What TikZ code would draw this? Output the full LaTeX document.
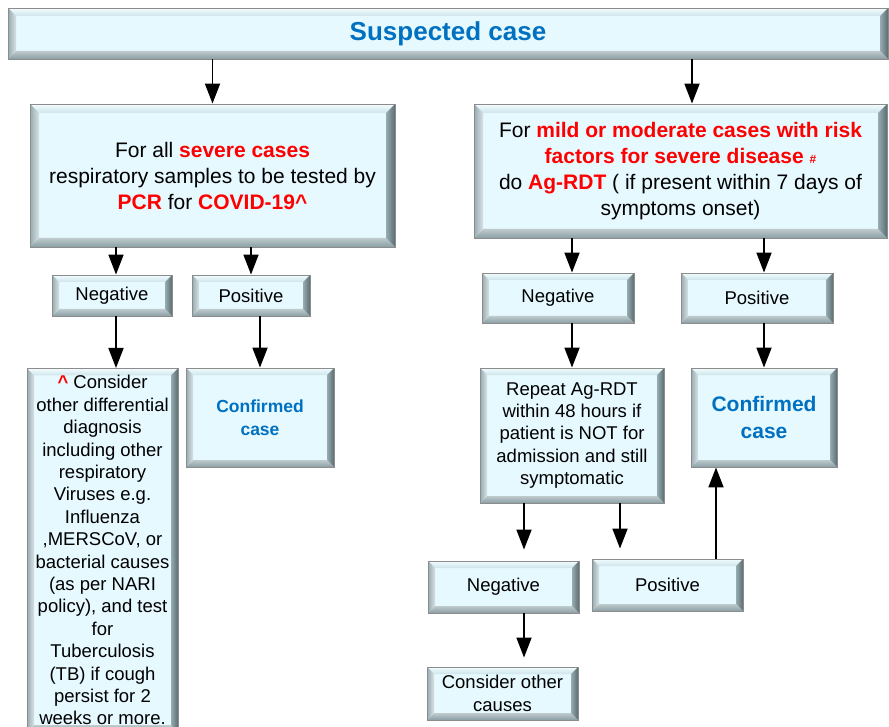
\documentclass[tikz,border=0pt]{standalone}
\usepackage{fontspec}
\setmainfont{Liberation Sans}
\usetikzlibrary{arrows.meta}

\definecolor{boxfill}{HTML}{E6F9FF}
\definecolor{bevlight}{HTML}{F4FDFF}
\definecolor{bevtopdark}{HTML}{CDE4EA}
\definecolor{bevside}{HTML}{95ACB1}
\definecolor{bevdark}{HTML}{5C6D71}
\definecolor{bevbottom}{HTML}{8A9FA4}
\definecolor{rimgray}{HTML}{8C8C8C}
\definecolor{alertred}{HTML}{FF0000}
\definecolor{caseblue}{HTML}{0070C0}

\newcommand{\hl}[1]{\textbf{\color{alertred}#1}}
\newcommand{\hb}[1]{\textbf{\color{caseblue}#1}}

\newcommand{\bevelfaces}[1]{%
  \coordinate (bnw) at (path picture bounding box.north west);
  \coordinate (bne) at (path picture bounding box.north east);
  \coordinate (bsw) at (path picture bounding box.south west);
  \coordinate (bse) at (path picture bounding box.south east);
  \shade[top color=bevlight, bottom color=bevtopdark]
    (bnw) -- (bne) -- ([shift={(-#1,-#1)}]bne) -- ([shift={(#1,-#1)}]bnw) -- cycle;
  \shade[top color=bevbottom!55, bottom color=bevbottom]
    (bsw) -- (bse) -- ([shift={(-#1,#1)}]bse) -- ([shift={(#1,#1)}]bsw) -- cycle;
  \shade[left color=bevside, right color=bevside!35]
    (bnw) -- (bsw) -- ([shift={(#1,#1)}]bsw) -- ([shift={(#1,-#1)}]bnw) -- cycle;
  \shade[left color=bevside, right color=bevdark]
    (bne) -- (bse) -- ([shift={(-#1,#1)}]bse) -- ([shift={(-#1,-#1)}]bne) -- cycle;
}

\tikzset{
  bevelbox/.style={draw=rimgray, line width=0.9pt, fill=boxfill, inner sep=0pt,
    align=center, path picture={\bevelfaces{#1}}},
  bevelbox/.default=7pt,
  arr/.style={-{Triangle[width=15pt,length=20pt]}, line width=1.8pt},
  bigtext/.style={font=\fontsize{21}{26}\selectfont},
  smalltext/.style={font=\fontsize{18.5}{22.4}\selectfont},
}

\begin{document}
\begin{tikzpicture}[x=1pt,y=-1pt]
\useasboundingbox (0,0) rectangle (889,727);
\clip (0,0) rectangle (889,727);

\node[bevelbox=8pt, minimum width=880pt, minimum height=51pt,
  font=\fontsize{26}{30}\selectfont] (suspect) at (448,33.5) {\hb{Suspected case}};

\node[bevelbox=9pt, minimum width=365pt, minimum height=143pt, bigtext] (severe) at (212.5,175.5)
  {For all \hl{severe cases}\\respiratory samples to be tested by\\\hl{PCR} for \hl{COVID-19\textasciicircum}};
\node[bevelbox=9pt, minimum width=413pt, minimum height=134pt, bigtext] (mild) at (680.5,171)
  {For \hl{mild or moderate cases with risk}\\\hl{factors for severe disease} {\fontsize{12}{12}\selectfont\hl{\#}}\\do \hl{Ag-RDT} ( if present within 7 days of\\symptoms onset)};

\node[bevelbox, minimum width=120pt, minimum height=41pt, smalltext] (negL) at (112,295.5) {Negative};
\node[bevelbox, minimum width=118pt, minimum height=41pt, smalltext] (posL) at (251,295.5) {Positive};

\node[bevelbox, anchor=north, minimum width=151pt, inner ysep=7pt, smalltext] (diffL) at (102.5,368)
  {\hl{\textasciicircum} Consider\\other differential\\diagnosis\\including other\\respiratory\\Viruses e.g.\\Influenza\\,MERSCoV, or\\bacterial causes\\(as per NARI\\policy), and test\\for\\Tuberculosis\\(TB) if cough\\persist for 2\\weeks or more.};
\node[bevelbox, minimum width=148pt, minimum height=99pt, font=\fontsize{17.5}{23}\selectfont] (confL) at (260,417.5)
  {\hb{Confirmed}\\\hb{case}};

\node[bevelbox, minimum width=152pt, minimum height=50pt, smalltext] (negR) at (558,298) {Negative};
\node[bevelbox, minimum width=152pt, minimum height=50pt, smalltext] (posR) at (757,298) {Positive};

\node[bevelbox, minimum width=184pt, minimum height=135pt, smalltext] (repeat) at (572,435.5)
  {Repeat Ag-RDT\\within 48 hours if\\patient is NOT for\\admission and still\\symptomatic};
\node[bevelbox, minimum width=146pt, minimum height=99pt, font=\fontsize{21}{27}\selectfont] (confR) at (764,417.5)
  {\hb{Confirmed}\\\hb{case}};

\node[bevelbox, minimum width=151pt, minimum height=52pt, smalltext] (negR2) at (503.5,587) {Negative};
\node[bevelbox, minimum width=151pt, minimum height=52pt, smalltext] (posR2) at (667.5,585) {Positive};
\node[bevelbox, minimum width=151pt, minimum height=53pt, smalltext] (other) at (502.5,693.5) {Consider other\\causes};

\draw[arr] (suspect.south -| severe.north) -- (severe.north);
\draw[arr] ([xshift=244pt]suspect.south) -- ([xshift=11.5pt]mild.north);

\draw[arr] ([xshift=-96.5pt]severe.south) -- ([xshift=4pt]negL.north);
\draw[arr] (severe.south -| posL.north) -- (posL.north);
\draw[arr] ([xshift=4pt]negL.south) -- ([xshift=4pt]negL.south |- diffL.north);
\draw[arr] (confL.north |- posL.south) -- (confL.north);

\draw[arr] (mild.south -| repeat.north) -- (negR.north -| repeat.north);
\draw[arr] (mild.south -| confR.north) -- (posR.north -| confR.north);
\draw[arr] (negR.south -| repeat.north) -- (repeat.north);
\draw[arr] (posR.south -| confR.north) -- (confR.north);

\draw[arr, shorten >=11pt] ([xshift=-48pt]repeat.south) -- ([xshift=-48pt]repeat.south |- negR2.north);
\draw[arr, shorten >=10pt] ([xshift=48pt]repeat.south) -- ([xshift=48pt]repeat.south |- posR2.north);
\draw[arr, shorten >=9pt] ([xshift=20.5pt]negR2.south) -- ([xshift=20.5pt]negR2.south |- other.north);
\draw[arr] ([xshift=48.5pt]posR2.north) -- ([xshift=48.5pt]posR2.north |- confR.south);
\end{tikzpicture}
\end{document}
